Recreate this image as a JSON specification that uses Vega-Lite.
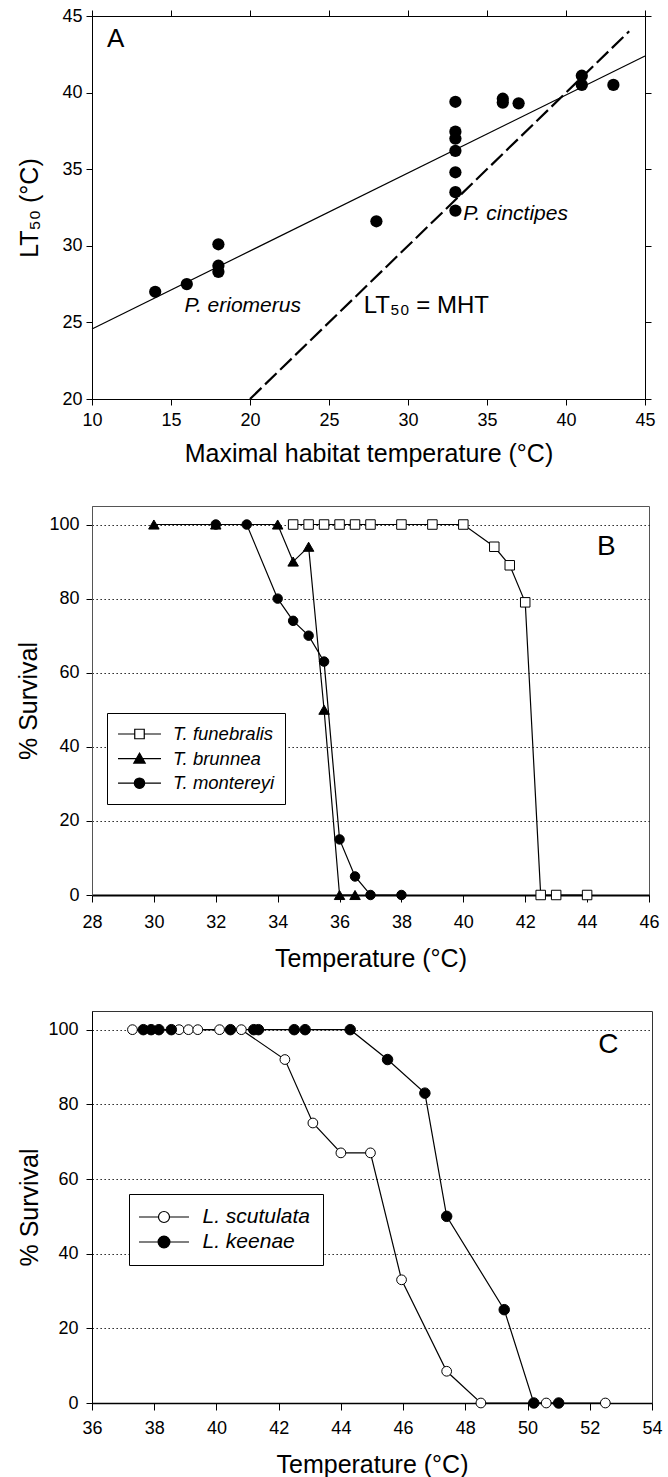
{
  "$schema": "https://vega.github.io/schema/vega-lite/v6.json",
  "background": "white",
  "padding": {"left": 16, "top": 6, "right": 0, "bottom": 0},
  "spacing": 38,
  "config": {
    "font": "Liberation Sans",
    "view": {"stroke": "black", "strokeWidth": 1},
    "axis": {
      "labelFont": "Liberation Sans", "titleFont": "Liberation Sans",
      "labelColor": "black", "titleColor": "black",
      "domainColor": "black", "tickColor": "black",
      "labelFontSize": 18, "titleFontSize": 25, "titleFontWeight": "normal",
      "tickSize": 6, "grid": false, "domainWidth": 1, "tickWidth": 1,
      "labelFlush": false, "labelOverlap": false, "labelBound": false
    }
  },
  "datasets": {
    "adata": [
      {"mht": 14, "lt50": 27.0}, {"mht": 16, "lt50": 27.5}, {"mht": 18, "lt50": 30.1},
      {"mht": 18, "lt50": 28.7}, {"mht": 18, "lt50": 28.3}, {"mht": 28, "lt50": 31.6},
      {"mht": 33, "lt50": 39.4}, {"mht": 33, "lt50": 37.45}, {"mht": 33, "lt50": 37.0},
      {"mht": 33, "lt50": 36.2}, {"mht": 33, "lt50": 34.8}, {"mht": 33, "lt50": 33.5},
      {"mht": 33, "lt50": 32.3}, {"mht": 36, "lt50": 39.6}, {"mht": 36, "lt50": 39.35},
      {"mht": 37, "lt50": 39.3}, {"mht": 41, "lt50": 41.1}, {"mht": 41, "lt50": 40.5},
      {"mht": 43, "lt50": 40.5}
    ],
    "tdata": [
      {"species": "T. funebralis", "temp": 34.5, "surv": 100},
      {"species": "T. funebralis", "temp": 35, "surv": 100},
      {"species": "T. funebralis", "temp": 35.5, "surv": 100},
      {"species": "T. funebralis", "temp": 36, "surv": 100},
      {"species": "T. funebralis", "temp": 36.5, "surv": 100},
      {"species": "T. funebralis", "temp": 37, "surv": 100},
      {"species": "T. funebralis", "temp": 38, "surv": 100},
      {"species": "T. funebralis", "temp": 39, "surv": 100},
      {"species": "T. funebralis", "temp": 40, "surv": 100},
      {"species": "T. funebralis", "temp": 41, "surv": 94},
      {"species": "T. funebralis", "temp": 41.5, "surv": 89},
      {"species": "T. funebralis", "temp": 42, "surv": 79},
      {"species": "T. funebralis", "temp": 42.5, "surv": 0},
      {"species": "T. funebralis", "temp": 43, "surv": 0},
      {"species": "T. funebralis", "temp": 44, "surv": 0},
      {"species": "T. brunnea", "temp": 30, "surv": 100},
      {"species": "T. brunnea", "temp": 32, "surv": 100},
      {"species": "T. brunnea", "temp": 34, "surv": 100},
      {"species": "T. brunnea", "temp": 34.5, "surv": 90},
      {"species": "T. brunnea", "temp": 35, "surv": 94},
      {"species": "T. brunnea", "temp": 35.5, "surv": 50},
      {"species": "T. brunnea", "temp": 36, "surv": 0},
      {"species": "T. brunnea", "temp": 36.5, "surv": 0},
      {"species": "T. montereyi", "temp": 32, "surv": 100},
      {"species": "T. montereyi", "temp": 33, "surv": 100},
      {"species": "T. montereyi", "temp": 34, "surv": 80},
      {"species": "T. montereyi", "temp": 34.5, "surv": 74},
      {"species": "T. montereyi", "temp": 35, "surv": 70},
      {"species": "T. montereyi", "temp": 35.5, "surv": 63},
      {"species": "T. montereyi", "temp": 36, "surv": 15},
      {"species": "T. montereyi", "temp": 36.5, "surv": 5},
      {"species": "T. montereyi", "temp": 37, "surv": 0},
      {"species": "T. montereyi", "temp": 38, "surv": 0}
    ],
    "ldata": [
      {"species": "L. scutulata", "temp": 37.3, "surv": 100},
      {"species": "L. scutulata", "temp": 38.8, "surv": 100},
      {"species": "L. scutulata", "temp": 39.1, "surv": 100},
      {"species": "L. scutulata", "temp": 39.4, "surv": 100},
      {"species": "L. scutulata", "temp": 40.1, "surv": 100},
      {"species": "L. scutulata", "temp": 40.8, "surv": 100},
      {"species": "L. scutulata", "temp": 42.2, "surv": 92},
      {"species": "L. scutulata", "temp": 43.1, "surv": 75},
      {"species": "L. scutulata", "temp": 44.0, "surv": 67},
      {"species": "L. scutulata", "temp": 44.95, "surv": 67},
      {"species": "L. scutulata", "temp": 45.95, "surv": 33},
      {"species": "L. scutulata", "temp": 47.4, "surv": 8.5},
      {"species": "L. scutulata", "temp": 48.5, "surv": 0},
      {"species": "L. scutulata", "temp": 50.6, "surv": 0},
      {"species": "L. scutulata", "temp": 52.5, "surv": 0},
      {"species": "L. keenae", "temp": 37.65, "surv": 100},
      {"species": "L. keenae", "temp": 37.9, "surv": 100},
      {"species": "L. keenae", "temp": 38.15, "surv": 100},
      {"species": "L. keenae", "temp": 38.55, "surv": 100},
      {"species": "L. keenae", "temp": 40.45, "surv": 100},
      {"species": "L. keenae", "temp": 41.2, "surv": 100},
      {"species": "L. keenae", "temp": 41.35, "surv": 100},
      {"species": "L. keenae", "temp": 42.5, "surv": 100},
      {"species": "L. keenae", "temp": 42.85, "surv": 100},
      {"species": "L. keenae", "temp": 44.3, "surv": 100},
      {"species": "L. keenae", "temp": 45.5, "surv": 92},
      {"species": "L. keenae", "temp": 46.7, "surv": 83},
      {"species": "L. keenae", "temp": 47.4, "surv": 50},
      {"species": "L. keenae", "temp": 49.25, "surv": 25},
      {"species": "L. keenae", "temp": 50.2, "surv": 0},
      {"species": "L. keenae", "temp": 51.0, "surv": 0}
    ]
  },
  "resolve": {
    "scale": {"x": "independent", "y": "independent", "shape": "independent", "fill": "independent", "stroke": "independent"},
    "axis": {"x": "independent", "y": "independent"},
    "legend": {"shape": "independent", "fill": "independent", "stroke": "independent"}
  },
  "vconcat": [
    {
      "width": 553, "height": 383,
      "view": {"stroke": "black", "strokeWidth": 1},
      "resolve": {"axis": {"x": "independent", "y": "independent"}},
      "layer": [
        {
          "data": {"name": "adata"},
          "mark": {"type": "point", "filled": true, "color": "black", "size": 150, "opacity": 1},
          "encoding": {
            "x": {"field": "mht", "type": "quantitative", "scale": {"domain": [10, 45], "nice": false, "zero": false},
                  "axis": {"orient": "bottom", "values": [10, 15, 20, 25, 30, 35, 40, 45], "title": "Maximal habitat temperature (°C)", "labelPadding": 6, "titlePadding": 12}},
            "y": {"field": "lt50", "type": "quantitative", "scale": {"domain": [20, 45], "nice": false, "zero": false},
                  "axis": {"orient": "left", "values": [20, 25, 30, 35, 40, 45], "title": "LT₅₀ (°C)", "labelPadding": 4, "titlePadding": 19}}
          }
        },
        {
          "data": {"values": [{"mht": 10, "lt50": 24.57}, {"mht": 45, "lt50": 42.39}]},
          "mark": {"type": "line", "color": "black", "strokeWidth": 1.2},
          "encoding": {
            "x": {"field": "mht", "type": "quantitative", "axis": null},
            "y": {"field": "lt50", "type": "quantitative", "axis": null}
          }
        },
        {
          "data": {"values": [{"mht": 20, "lt50": 20}, {"mht": 44, "lt50": 44}]},
          "mark": {"type": "line", "color": "black", "strokeWidth": 2.2, "strokeDash": [16, 5]},
          "encoding": {
            "x": {"field": "mht", "type": "quantitative", "axis": null},
            "y": {"field": "lt50", "type": "quantitative", "axis": null}
          }
        },
        {
          "data": {"values": [{"mht": 11.5, "lt50": 43.5, "label": "A"}]},
          "mark": {"type": "text", "fontSize": 26, "font": "Liberation Sans", "color": "black", "align": "center", "baseline": "middle"},
          "encoding": {
            "x": {"field": "mht", "type": "quantitative", "axis": null},
            "y": {"field": "lt50", "type": "quantitative", "axis": null},
            "text": {"field": "label"}
          }
        },
        {
          "data": {"values": [{"mht": 15.86, "lt50": 26.1, "label": "P. eriomerus"}, {"mht": 33.5, "lt50": 32.1, "label": "P. cinctipes"}]},
          "mark": {"type": "text", "fontSize": 21, "font": "Liberation Sans", "fontStyle": "italic", "color": "black", "align": "left", "baseline": "middle"},
          "encoding": {
            "x": {"field": "mht", "type": "quantitative", "axis": null},
            "y": {"field": "lt50", "type": "quantitative", "axis": null},
            "text": {"field": "label"}
          }
        },
        {
          "data": {"values": [{"mht": 27.2, "lt50": 26.1, "label": "LT₅₀ = MHT"}]},
          "mark": {"type": "text", "fontSize": 24, "font": "Liberation Sans", "color": "black", "align": "left", "baseline": "middle"},
          "encoding": {
            "x": {"field": "mht", "type": "quantitative", "axis": null},
            "y": {"field": "lt50", "type": "quantitative", "axis": null},
            "text": {"field": "label"}
          }
        },
        {
          "data": {"values": [{"mht": 10, "lt50": 20}]},
          "mark": {"type": "point", "opacity": 0},
          "encoding": {
            "x": {"field": "mht", "type": "quantitative",
                  "axis": {"orient": "top", "labels": false, "title": null, "domain": false, "values": [10, 15, 20, 25, 30, 35, 40, 45]}},
            "y": {"field": "lt50", "type": "quantitative",
                  "axis": {"orient": "right", "labels": false, "title": null, "domain": false, "values": [20, 25, 30, 35, 40, 45]}}
          }
        }
      ]
    },
    {
      "width": 557, "height": 389,
      "view": {"stroke": "#555", "strokeWidth": 1},
      "layer": [
        {
          "data": {"name": "tdata"},
          "mark": {"type": "line", "color": "black", "strokeWidth": 1.2},
          "encoding": {
            "x": {"field": "temp", "type": "quantitative", "scale": {"domain": [28, 46], "nice": false, "zero": false},
                  "axis": {"values": [28, 30, 32, 34, 36, 38, 40, 42, 44, 46], "title": "Temperature (°C)", "tickSize": 7, "labelPadding": 11, "titlePadding": 15, "domainWidth": 1.8}},
            "y": {"field": "surv", "type": "quantitative", "scale": {"domain": [0, 105], "nice": false},
                  "axis": {"values": [0, 20, 40, 60, 80, 100], "title": "% Survival", "grid": true, "gridColor": "black", "gridDash": [1.3, 2.7], "gridWidth": 1, "labelPadding": 7, "titlePadding": 7, "domainColor": "#555"}},
            "detail": {"field": "species"}
          }
        },
        {
          "data": {"name": "tdata"},
          "transform": [{"filter": "datum.species === 'T. funebralis'"}],
          "mark": {"type": "point", "shape": "square", "filled": true, "fill": "white", "stroke": "black", "strokeWidth": 1, "opacity": 1, "size": 90},
          "encoding": {
            "x": {"field": "temp", "type": "quantitative"},
            "y": {"field": "surv", "type": "quantitative"}
          }
        },
        {
          "data": {"name": "tdata"},
          "transform": [{"filter": "datum.species === 'T. brunnea'"}],
          "mark": {"type": "point", "shape": "triangle-up", "filled": true, "fill": "black", "stroke": "black", "strokeWidth": 1, "opacity": 1, "size": 110},
          "encoding": {
            "x": {"field": "temp", "type": "quantitative"},
            "y": {"field": "surv", "type": "quantitative"}
          }
        },
        {
          "data": {"name": "tdata"},
          "transform": [{"filter": "datum.species === 'T. montereyi'"}],
          "mark": {"type": "point", "shape": "circle", "filled": true, "fill": "black", "stroke": "black", "strokeWidth": 1, "opacity": 1, "size": 90},
          "encoding": {
            "x": {"field": "temp", "type": "quantitative"},
            "y": {"field": "surv", "type": "quantitative"}
          }
        },
        {
          "data": {"values": []},
          "mark": {"type": "point", "filled": true, "strokeWidth": 1.2, "opacity": 1, "size": 361},
          "encoding": {
            "shape": {"field": "species", "type": "nominal",
              "scale": {"domain": ["T. funebralis", "T. brunnea", "T. montereyi"],
                        "range": ["M-2.26,0H-0.5M0.5,0H2.26M-0.5,-0.5H0.5V0.5H-0.5Z", "M-2.26,0H2.26M0,-0.58L0.6,0.47L-0.6,0.47Z", "M-2.26,0H2.26M-0.55,0A0.55,0.55 0 1,1 0.55,0A0.55,0.55 0 1,1 -0.55,0Z"]},
              "legend": {
                "title": null, "orient": "none", "legendX": 15, "legendY": 207, "direction": "vertical",
                "strokeColor": "black", "fillColor": "white", "padding": 10.5, "cornerRadius": 0,
                "symbolSize": 361, "symbolStrokeWidth": 1.2, "symbolStrokeColor": "black", "symbolOpacity": 1,
                "symbolOffset": 11.5, "labelOffset": 23, "rowPadding": 4.6,
                "labelFontSize": 18.5, "labelFontStyle": "italic", "labelColor": "black", "labelFont": "Liberation Sans", "labelLimit": 300
              }
            },
            "fill": {"field": "species", "type": "nominal",
              "scale": {"domain": ["T. funebralis", "T. brunnea", "T. montereyi"], "range": ["white", "black", "black"]},
              "legend": {
                "title": null, "orient": "none", "legendX": 15, "legendY": 207, "direction": "vertical",
                "strokeColor": "black", "fillColor": "white", "padding": 10.5, "cornerRadius": 0,
                "symbolSize": 361, "symbolStrokeWidth": 1.2, "symbolStrokeColor": "black", "symbolOpacity": 1,
                "symbolOffset": 11.5, "labelOffset": 23, "rowPadding": 4.6,
                "labelFontSize": 18.5, "labelFontStyle": "italic", "labelColor": "black", "labelFont": "Liberation Sans", "labelLimit": 300
              }
            },
            "stroke": {"field": "species", "type": "nominal",
              "scale": {"domain": ["T. funebralis", "T. brunnea", "T. montereyi"], "range": ["black", "black", "black"]},
              "legend": {
                "title": null, "orient": "none", "legendX": 15, "legendY": 207, "direction": "vertical",
                "strokeColor": "black", "fillColor": "white", "padding": 10.5, "cornerRadius": 0,
                "symbolSize": 361, "symbolStrokeWidth": 1.2, "symbolStrokeColor": "black", "symbolOpacity": 1,
                "symbolOffset": 11.5, "labelOffset": 23, "rowPadding": 4.6,
                "labelFontSize": 18.5, "labelFontStyle": "italic", "labelColor": "black", "labelFont": "Liberation Sans", "labelLimit": 300
              }
            }
          }
        },
        {
          "data": {"values": [{"temp": 44.62, "surv": 93.8, "label": "B"}]},
          "mark": {"type": "text", "fontSize": 28, "font": "Liberation Sans", "color": "black", "align": "center", "baseline": "middle"},
          "encoding": {
            "x": {"field": "temp", "type": "quantitative"},
            "y": {"field": "surv", "type": "quantitative"},
            "text": {"field": "label"}
          }
        }
      ]
    },
    {
      "width": 560, "height": 392,
      "view": {"stroke": "#333", "strokeWidth": 1},
      "layer": [
        {
          "data": {"name": "ldata"},
          "mark": {"type": "line", "color": "black", "strokeWidth": 1.2},
          "encoding": {
            "x": {"field": "temp", "type": "quantitative", "scale": {"domain": [36, 54], "nice": false, "zero": false},
                  "axis": {"values": [36, 38, 40, 42, 44, 46, 48, 50, 52, 54], "title": "Temperature (°C)", "tickSize": 7, "labelPadding": 9, "titlePadding": 15, "domainWidth": 1.5}},
            "y": {"field": "surv", "type": "quantitative", "scale": {"domain": [0, 105], "nice": false},
                  "axis": {"values": [0, 20, 40, 60, 80, 100], "title": "% Survival", "grid": true, "gridColor": "black", "gridDash": [1.3, 2.7], "gridWidth": 1, "labelPadding": 8, "titlePadding": 5}},
            "detail": {"field": "species"}
          }
        },
        {
          "data": {"name": "ldata"},
          "transform": [{"filter": "datum.species === 'L. scutulata'"}],
          "mark": {"type": "point", "shape": "circle", "filled": true, "fill": "white", "stroke": "black", "strokeWidth": 1, "opacity": 1, "size": 95},
          "encoding": {
            "x": {"field": "temp", "type": "quantitative"},
            "y": {"field": "surv", "type": "quantitative"}
          }
        },
        {
          "data": {"name": "ldata"},
          "transform": [{"filter": "datum.species === 'L. keenae'"}],
          "mark": {"type": "point", "shape": "circle", "filled": true, "fill": "black", "stroke": "black", "strokeWidth": 1, "opacity": 1, "size": 110},
          "encoding": {
            "x": {"field": "temp", "type": "quantitative"},
            "y": {"field": "surv", "type": "quantitative"}
          }
        },
        {
          "data": {"values": []},
          "mark": {"type": "point", "filled": true, "strokeWidth": 1.2, "opacity": 1, "size": 361},
          "encoding": {
            "shape": {"field": "species", "type": "nominal",
              "scale": {"domain": ["L. scutulata", "L. keenae"],
                        "range": ["M-2.63,0H-0.58M0.58,0H2.63M-0.58,0A0.58,0.58 0 1,1 0.58,0A0.58,0.58 0 1,1 -0.58,0Z", "M-2.63,0H2.63M-0.62,0A0.62,0.62 0 1,1 0.62,0A0.62,0.62 0 1,1 -0.62,0Z"]},
              "legend": {
                "title": null, "orient": "none", "legendX": 37, "legendY": 183, "direction": "vertical",
                "strokeColor": "black", "fillColor": "white", "padding": 12.5, "cornerRadius": 0,
                "symbolSize": 361, "symbolStrokeWidth": 1.2, "symbolStrokeColor": "black", "symbolOpacity": 1,
                "symbolOffset": 12, "labelOffset": 28, "rowPadding": 3,
                "labelFontSize": 21, "labelFontStyle": "italic", "labelColor": "black", "labelFont": "Liberation Sans", "labelLimit": 300
              }
            },
            "fill": {"field": "species", "type": "nominal",
              "scale": {"domain": ["L. scutulata", "L. keenae"], "range": ["white", "black"]},
              "legend": {
                "title": null, "orient": "none", "legendX": 37, "legendY": 183, "direction": "vertical",
                "strokeColor": "black", "fillColor": "white", "padding": 12.5, "cornerRadius": 0,
                "symbolSize": 361, "symbolStrokeWidth": 1.2, "symbolStrokeColor": "black", "symbolOpacity": 1,
                "symbolOffset": 12, "labelOffset": 28, "rowPadding": 3,
                "labelFontSize": 21, "labelFontStyle": "italic", "labelColor": "black", "labelFont": "Liberation Sans", "labelLimit": 300
              }
            },
            "stroke": {"field": "species", "type": "nominal",
              "scale": {"domain": ["L. scutulata", "L. keenae"], "range": ["black", "black"]},
              "legend": {
                "title": null, "orient": "none", "legendX": 37, "legendY": 183, "direction": "vertical",
                "strokeColor": "black", "fillColor": "white", "padding": 12.5, "cornerRadius": 0,
                "symbolSize": 361, "symbolStrokeWidth": 1.2, "symbolStrokeColor": "black", "symbolOpacity": 1,
                "symbolOffset": 12, "labelOffset": 28, "rowPadding": 3,
                "labelFontSize": 21, "labelFontStyle": "italic", "labelColor": "black", "labelFont": "Liberation Sans", "labelLimit": 300
              }
            }
          }
        },
        {
          "data": {"values": [{"temp": 52.6, "surv": 96, "label": "C"}]},
          "mark": {"type": "text", "fontSize": 28, "font": "Liberation Sans", "color": "black", "align": "center", "baseline": "middle"},
          "encoding": {
            "x": {"field": "temp", "type": "quantitative"},
            "y": {"field": "surv", "type": "quantitative"},
            "text": {"field": "label"}
          }
        }
      ]
    }
  ]
}
